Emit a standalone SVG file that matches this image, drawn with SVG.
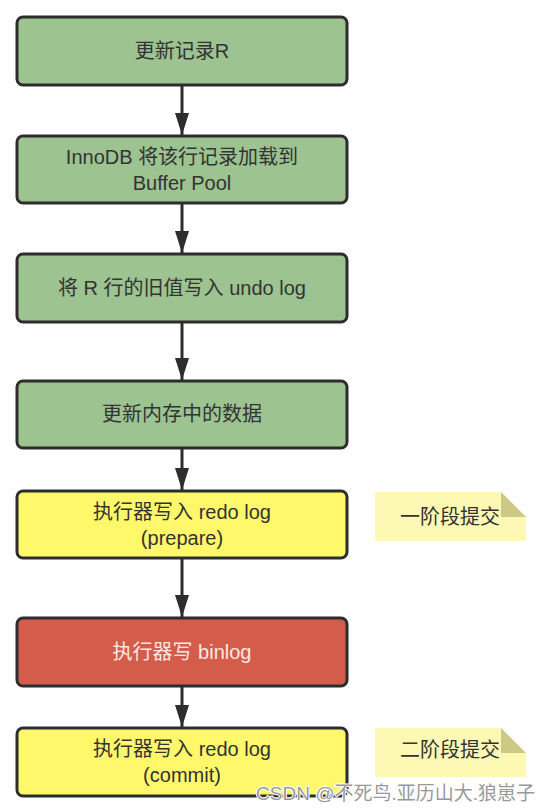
<svg xmlns="http://www.w3.org/2000/svg" width="548" height="811" viewBox="0 0 548 811">
<style>
.box{stroke:#2d2d2d;stroke-width:3}
.g{fill:#9cc390}
.y{fill:#fff86a}
.r{fill:#d45c4a}
.t{font-family:"Liberation Sans","Noto Sans CJK SC",sans-serif;font-size:20px;fill:#333;text-anchor:middle;dominant-baseline:central}
.w{fill:#fbe7e2}
.note{fill:#fdf9b4}
.fold{fill:#cbc985}
.wm{font-family:"Liberation Sans","Noto Sans CJK SC",sans-serif;font-size:19px;fill:#999;stroke:#fff;stroke-width:2;paint-order:stroke;text-anchor:end}
</style>
<defs>
<marker id="ah" markerWidth="22" markerHeight="14" refX="22" refY="7" orient="auto" markerUnits="userSpaceOnUse" viewBox="0 0 22 14">
<path d="M0,0 L22,7 L0,14 Z" fill="#2d2d2d"/>
</marker>
</defs>
<rect width="548" height="811" fill="#fff"/>
<g id="connectors" stroke="#2d2d2d" stroke-width="3" fill="none">
<line x1="182" y1="86" x2="182" y2="135" marker-end="url(#ah)"/>
<line x1="182" y1="204" x2="182" y2="253" marker-end="url(#ah)"/>
<line x1="182" y1="323" x2="182" y2="380" marker-end="url(#ah)"/>
<line x1="182" y1="449" x2="182" y2="490" marker-end="url(#ah)"/>
<line x1="182" y1="559" x2="182" y2="617" marker-end="url(#ah)"/>
<line x1="182" y1="687" x2="182" y2="727" marker-end="url(#ah)"/>
</g>
<g id="n1"><rect class="box g" x="17" y="17" width="330" height="68" rx="6"/><text class="t" x="182" y="51">更新记录R</text></g>
<g id="n2"><rect class="box g" x="17" y="136" width="330" height="67" rx="6"/><text class="t" x="182" y="157">InnoDB 将该行记录加载到</text><text class="t" x="182" y="183">Buffer Pool</text></g>
<g id="n3"><rect class="box g" x="17" y="254" width="330" height="68" rx="6"/><text class="t" x="182" y="288">将 R 行的旧值写入 undo log</text></g>
<g id="n4"><rect class="box g" x="17" y="381" width="330" height="67" rx="6"/><text class="t" x="182" y="414">更新内存中的数据</text></g>
<g id="n5"><rect class="box y" x="17" y="491" width="330" height="67" rx="6"/><text class="t" x="182" y="512">执行器写入 redo log</text><text class="t" x="182" y="538">(prepare)</text></g>
<g id="n6"><rect class="box r" x="17" y="618" width="330" height="68" rx="6"/><text class="t w" x="182" y="652">执行器写 binlog</text></g>
<g id="n7"><rect class="box y" x="17" y="728" width="330" height="68" rx="6"/><text class="t" x="182" y="749">执行器写入 redo log</text><text class="t" x="182" y="775">(commit)</text></g>
<g id="note1"><path class="note" d="M375,492 H501 L526,517 V541 H375 Z"/><path class="fold" d="M501,492 L526,517 H501 Z"/><text class="t" x="450" y="517">一阶段提交</text></g>
<g id="note2"><path class="note" d="M375,728 H501 L526,753 V777 H375 Z"/><path class="fold" d="M501,728 L526,753 H501 Z"/><text class="t" x="450" y="750">二阶段提交</text></g>
<text class="wm" x="535" y="800">CSDN @不死鸟.亚历山大.狼崽子</text>
</svg>
